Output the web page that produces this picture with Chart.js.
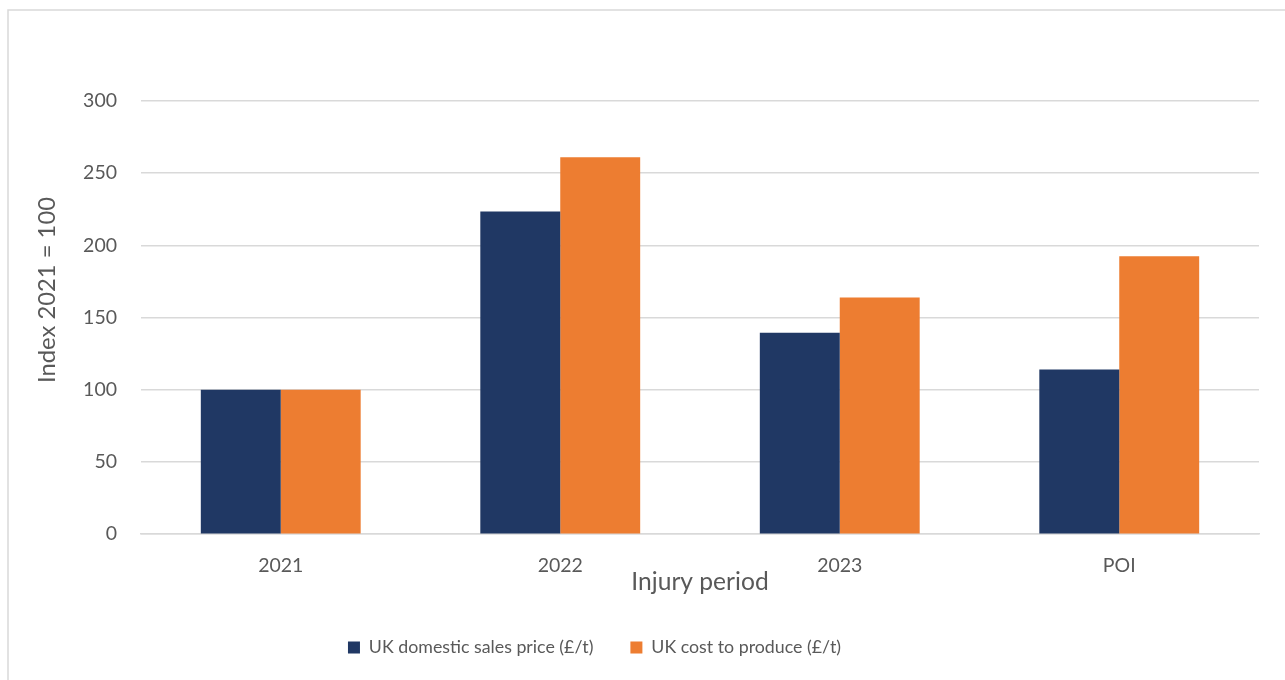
<!DOCTYPE html>
<html>
<head>
<meta charset="utf-8">
<script src="https://cdn.jsdelivr.net/npm/chart.js"></script>
<style>
    html, body { margin: 0; padding: 0; background: #fff; }
    #wrap { width: 1285px; height: 680px; position: relative; }
</style>
</head>
<body>
<div id="wrap"><canvas id="priceChart"></canvas></div>
<script>
// Index values per period (2021 = 100)
const periods = ['2021', '2022', '2023', 'POI'];
const salesPrice = [100, 223.5, 139.5, 114];
const costToProduce = [100, 261, 164, 192.5];
const yTicks = [0, 50, 100, 150, 200, 250, 300];

const textColor = '#595959';
const gridColor = '#d9d9d9';
const fontFamily = 'Lato, "Open Sans", sans-serif';

// Outer frame and white background
const framePlugin = {
    id: 'frame',
    beforeDraw(chart) {
        const ctx = chart.ctx;
        ctx.save();
        ctx.fillStyle = '#fff';
        ctx.fillRect(0, 0, chart.width, chart.height);
        ctx.strokeStyle = gridColor;
        ctx.lineWidth = 1.5;
        ctx.strokeRect(8, 10, chart.width + 20, chart.height + 20);
        ctx.restore();
    }
};

// Rotated y axis title, centred a bit above the plot middle
const yTitlePlugin = {
    id: 'yTitle',
    afterDraw(chart) {
        const ctx = chart.ctx;
        ctx.save();
        ctx.translate(47, 290);
        ctx.rotate(-Math.PI / 2);
        ctx.font = '23.8px ' + fontFamily;
        ctx.fillStyle = textColor;
        ctx.textAlign = 'center';
        ctx.textBaseline = 'middle';
        ctx.fillText('Index 2021 = 100', 0, 0);
        ctx.restore();
    }
};

// Legend sits left of the canvas centre
const legendShift = {
    id: 'legendShift',
    afterLayout(chart) {
        const lg = chart.legend;
        if (lg) {
            lg.left -= 35;
            lg.right -= 35;
        }
    }
};

new Chart(document.getElementById('priceChart').getContext('2d'), {
    type: 'bar',
    data: {
        labels: periods,
        datasets: [{
            label: 'UK domestic sales price (£/t)',
            data: salesPrice,
            backgroundColor: '#203864',
            borderWidth: 0
        }, {
            label: 'UK cost to produce (£/t)',
            data: costToProduce,
            backgroundColor: '#ED7D31',
            borderWidth: 0
        }]
    },
    options: {
        responsive: true,
        maintainAspectRatio: false,
        animation: false,
        layout: {
            padding: { left: 0, top: 101, right: 26, bottom: 13.5 }
        },
        datasets: {
            bar: {
                categoryPercentage: 0.572,
                barPercentage: 1
            }
        },
        plugins: {
            legend: {
                position: 'bottom',
                labels: {
                    boxWidth: 12,
                    boxHeight: 12,
                    padding: 37,
                    color: textColor,
                    font: { family: fontFamily, size: 17.8 }
                }
            },
            tooltip: { enabled: false }
        },
        scales: {
            x: {
                grid: { display: false, drawTicks: false },
                border: { display: true, color: gridColor, width: 1.5 },
                ticks: {
                    color: textColor,
                    padding: 20,
                    font: { family: fontFamily, size: 19.5 }
                },
                title: {
                    display: true,
                    text: 'Injury period',
                    color: textColor,
                    padding: { top: 0, bottom: 5 },
                    font: { family: fontFamily, size: 24.6 }
                },
                afterFit(scale) {
                    scale.height = 67.5;
                }
            },
            y: {
                min: 0,
                max: 300,
                afterBuildTicks(scale) {
                    scale.ticks = yTicks.map(v => ({ value: v }));
                },
                grid: { color: gridColor, lineWidth: 1.5, drawTicks: false },
                border: { display: false },
                ticks: {
                    color: textColor,
                    padding: 24,
                    font: { family: fontFamily, size: 19.5 }
                },
                afterFit(scale) {
                    scale.width = 141;
                }
            }
        }
    },
    plugins: [framePlugin, yTitlePlugin, legendShift]
});
</script>
</body>
</html>
